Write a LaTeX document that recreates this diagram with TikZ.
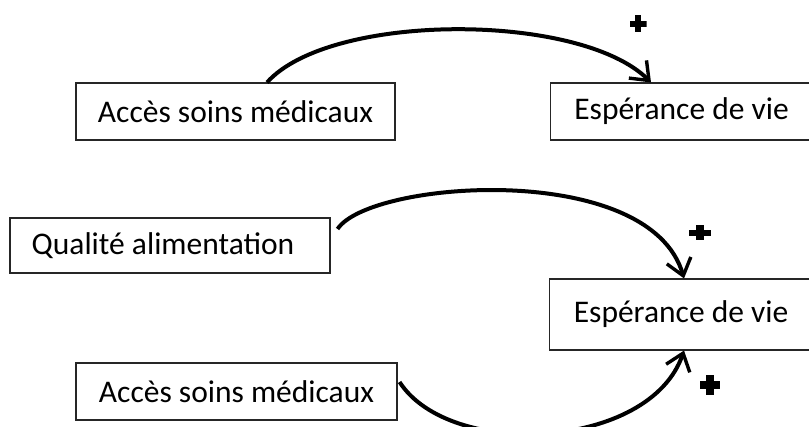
\documentclass[tikz,border=0pt]{standalone}
\usepackage{fontspec}
\setmainfont{Carlito}
\usetikzlibrary{arrows.meta,calc}
\begin{document}
\begin{tikzpicture}[x=1pt,y=-1pt,
  box/.style={draw=black!85,line width=1.1pt,inner sep=0pt,font=\fontsize{31.5}{36}\selectfont},
  link/.style={line width=4pt,-{Straight Barb[length=16pt,width=25pt,line width=3.4pt]}},
  plusmark/.style 2 args={minimum width=#1,minimum height=#2,inner sep=0pt,
    path picture={
      \fill[black] ($(path picture bounding box.south west)!0.32!(path picture bounding box.north west)$) rectangle ($(path picture bounding box.south east)!0.68!(path picture bounding box.north east)$);
      \fill[black] ($(path picture bounding box.south west)!0.32!(path picture bounding box.south east)$) rectangle ($(path picture bounding box.north west)!0.68!(path picture bounding box.north east)$);
    }}]
\useasboundingbox (0,0) rectangle (809,427);
\node[box,minimum width=319pt,minimum height=57pt] (a1) at (235.5,111.5) {Accès soins médicaux};
\node[box,minimum width=262pt,minimum height=57pt,anchor=west] (e1) at (550,111.5) {Espérance de vie};
\node[box,minimum width=320pt,minimum height=55pt] (q) at (170,245.5) {Qualité alimentation\kern14pt};
\node[box,minimum width=263pt,minimum height=71pt,anchor=west] (e2) at (549,314.5) {Espérance de vie};
\node[box,minimum width=321pt,minimum height=57pt] (a2) at (236.5,391.5) {Accès soins médicaux};
\draw[link] ([xshift=31.5pt]a1.north) .. controls (330,12) and (580,12) .. (e1.north -| 651,0);
\draw[link] ([shift={(7pt,16.5pt)}]q.east) .. controls (370,180) and (650,160) .. (e2.north -| 684,0);
\draw[link] ([shift={(2pt,9.5pt)}]a2.east) .. controls (450,460) and (650,450) .. (e2.south -| 684,0);
\node[plusmark={17pt}{17pt}] (p1) at (638,24) {};
\node[plusmark={22pt}{15pt}] (p2) at (700,233) {};
\node[plusmark={20pt}{20pt}] (p3) at (710,385) {};
\end{tikzpicture}
\end{document}
